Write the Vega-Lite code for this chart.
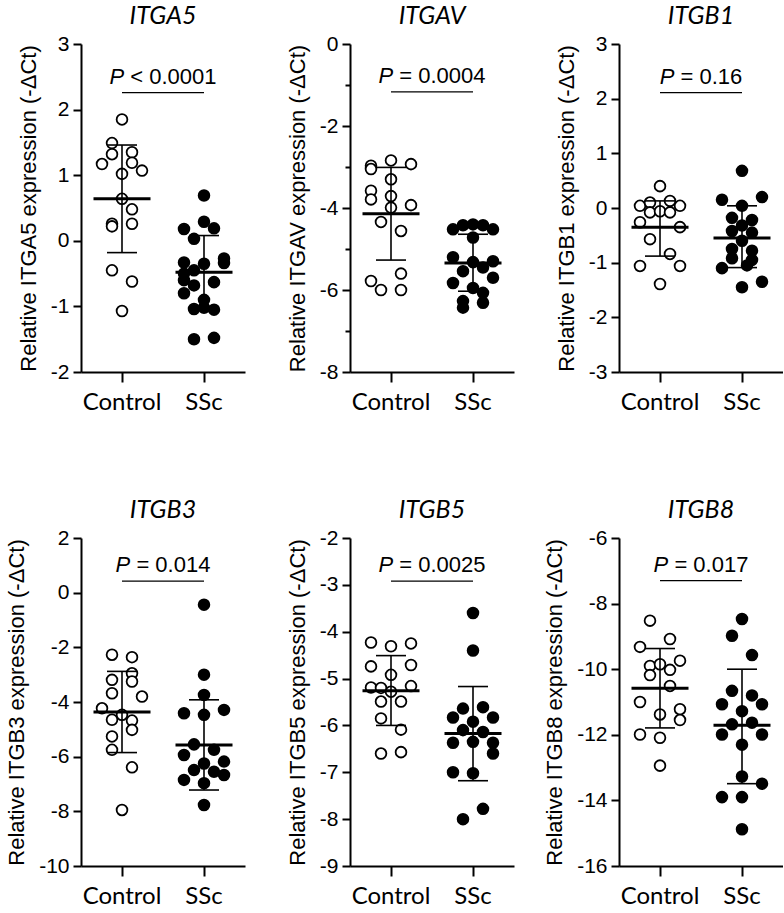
{
"$schema":"https://vega.github.io/schema/vega-lite/v6.json",
"padding":{"left":5,"top":4,"right":0,"bottom":0},
"background":"white",
"datasets":{
"pts":[
{"gene":"ITGA5","group":"Control","v":1.85,"s":0},{"gene":"ITGA5","group":"Control","v":1.49,"s":-2},{"gene":"ITGA5","group":"Control","v":1.32,"s":-2},{"gene":"ITGA5","group":"Control","v":1.35,"s":2},{"gene":"ITGA5","group":"Control","v":1.17,"s":-4},{"gene":"ITGA5","group":"Control","v":1.19,"s":2},{"gene":"ITGA5","group":"Control","v":1.07,"s":4},{"gene":"ITGA5","group":"Control","v":1.02,"s":0},{"gene":"ITGA5","group":"Control","v":0.64,"s":0},{"gene":"ITGA5","group":"Control","v":0.48,"s":2},{"gene":"ITGA5","group":"Control","v":0.26,"s":-2},{"gene":"ITGA5","group":"Control","v":0.22,"s":-2},{"gene":"ITGA5","group":"Control","v":0.26,"s":2},{"gene":"ITGA5","group":"Control","v":-0.45,"s":-2},{"gene":"ITGA5","group":"Control","v":-0.62,"s":2},{"gene":"ITGA5","group":"Control","v":-1.07,"s":0},
{"gene":"ITGA5","group":"SSc","v":0.69,"s":0},{"gene":"ITGA5","group":"SSc","v":0.29,"s":0},{"gene":"ITGA5","group":"SSc","v":0.18,"s":-4},{"gene":"ITGA5","group":"SSc","v":0.19,"s":2},{"gene":"ITGA5","group":"SSc","v":0.03,"s":-2},{"gene":"ITGA5","group":"SSc","v":-0.27,"s":4},{"gene":"ITGA5","group":"SSc","v":-0.34,"s":4},{"gene":"ITGA5","group":"SSc","v":-0.33,"s":-4},{"gene":"ITGA5","group":"SSc","v":-0.35,"s":0},{"gene":"ITGA5","group":"SSc","v":-0.45,"s":-2},{"gene":"ITGA5","group":"SSc","v":-0.5,"s":-4},{"gene":"ITGA5","group":"SSc","v":-0.6,"s":-4},{"gene":"ITGA5","group":"SSc","v":-0.63,"s":2},{"gene":"ITGA5","group":"SSc","v":-0.68,"s":-2},{"gene":"ITGA5","group":"SSc","v":-0.8,"s":-4},{"gene":"ITGA5","group":"SSc","v":-0.9,"s":0},{"gene":"ITGA5","group":"SSc","v":-1.02,"s":0},{"gene":"ITGA5","group":"SSc","v":-1.04,"s":-2},{"gene":"ITGA5","group":"SSc","v":-1.05,"s":2},{"gene":"ITGA5","group":"SSc","v":-1.5,"s":-2},{"gene":"ITGA5","group":"SSc","v":-1.48,"s":2},
{"gene":"ITGAV","group":"Control","v":-2.84,"s":0},{"gene":"ITGAV","group":"Control","v":-2.97,"s":-4},{"gene":"ITGAV","group":"Control","v":-3.05,"s":-4},{"gene":"ITGAV","group":"Control","v":-2.93,"s":4},{"gene":"ITGAV","group":"Control","v":-3.3,"s":0},{"gene":"ITGAV","group":"Control","v":-3.58,"s":-4},{"gene":"ITGAV","group":"Control","v":-3.71,"s":0},{"gene":"ITGAV","group":"Control","v":-3.79,"s":-4},{"gene":"ITGAV","group":"Control","v":-3.93,"s":4},{"gene":"ITGAV","group":"Control","v":-3.99,"s":0},{"gene":"ITGAV","group":"Control","v":-4.34,"s":-2},{"gene":"ITGAV","group":"Control","v":-4.56,"s":2},{"gene":"ITGAV","group":"Control","v":-5.6,"s":2},{"gene":"ITGAV","group":"Control","v":-5.78,"s":-4},{"gene":"ITGAV","group":"Control","v":-6.0,"s":-2},{"gene":"ITGAV","group":"Control","v":-6.0,"s":2},
{"gene":"ITGAV","group":"SSc","v":-4.52,"s":-4},{"gene":"ITGAV","group":"SSc","v":-4.42,"s":-2},{"gene":"ITGAV","group":"SSc","v":-4.4,"s":0},{"gene":"ITGAV","group":"SSc","v":-4.42,"s":2},{"gene":"ITGAV","group":"SSc","v":-4.52,"s":4},{"gene":"ITGAV","group":"SSc","v":-4.72,"s":0},{"gene":"ITGAV","group":"SSc","v":-5.2,"s":-4},{"gene":"ITGAV","group":"SSc","v":-5.32,"s":0},{"gene":"ITGAV","group":"SSc","v":-5.3,"s":4},{"gene":"ITGAV","group":"SSc","v":-5.54,"s":-2},{"gene":"ITGAV","group":"SSc","v":-5.45,"s":2},{"gene":"ITGAV","group":"SSc","v":-5.7,"s":4},{"gene":"ITGAV","group":"SSc","v":-5.83,"s":-4},{"gene":"ITGAV","group":"SSc","v":-5.95,"s":0},{"gene":"ITGAV","group":"SSc","v":-6.07,"s":2},{"gene":"ITGAV","group":"SSc","v":-6.27,"s":-2},{"gene":"ITGAV","group":"SSc","v":-6.43,"s":-2},{"gene":"ITGAV","group":"SSc","v":-6.31,"s":2},
{"gene":"ITGB1","group":"Control","v":0.4,"s":0},{"gene":"ITGB1","group":"Control","v":0.04,"s":-4},{"gene":"ITGB1","group":"Control","v":0.1,"s":-2},{"gene":"ITGB1","group":"Control","v":0.13,"s":2},{"gene":"ITGB1","group":"Control","v":0.04,"s":4},{"gene":"ITGB1","group":"Control","v":-0.08,"s":-2},{"gene":"ITGB1","group":"Control","v":-0.06,"s":0},{"gene":"ITGB1","group":"Control","v":-0.08,"s":2},{"gene":"ITGB1","group":"Control","v":-0.26,"s":-4},{"gene":"ITGB1","group":"Control","v":-0.35,"s":4},{"gene":"ITGB1","group":"Control","v":-0.57,"s":-2},{"gene":"ITGB1","group":"Control","v":-0.84,"s":2},{"gene":"ITGB1","group":"Control","v":-1.06,"s":-4},{"gene":"ITGB1","group":"Control","v":-1.06,"s":4},{"gene":"ITGB1","group":"Control","v":-1.39,"s":0},
{"gene":"ITGB1","group":"SSc","v":0.68,"s":0},{"gene":"ITGB1","group":"SSc","v":0.15,"s":-4},{"gene":"ITGB1","group":"SSc","v":0.2,"s":4},{"gene":"ITGB1","group":"SSc","v":0.04,"s":0},{"gene":"ITGB1","group":"SSc","v":-0.18,"s":-2},{"gene":"ITGB1","group":"SSc","v":-0.22,"s":2},{"gene":"ITGB1","group":"SSc","v":-0.32,"s":0},{"gene":"ITGB1","group":"SSc","v":-0.42,"s":-2},{"gene":"ITGB1","group":"SSc","v":-0.45,"s":2},{"gene":"ITGB1","group":"SSc","v":-0.6,"s":0},{"gene":"ITGB1","group":"SSc","v":-0.75,"s":-2},{"gene":"ITGB1","group":"SSc","v":-0.78,"s":2},{"gene":"ITGB1","group":"SSc","v":-0.92,"s":-2},{"gene":"ITGB1","group":"SSc","v":-0.95,"s":2},{"gene":"ITGB1","group":"SSc","v":-1.1,"s":-4},{"gene":"ITGB1","group":"SSc","v":-1.05,"s":1},{"gene":"ITGB1","group":"SSc","v":-1.35,"s":4},{"gene":"ITGB1","group":"SSc","v":-1.45,"s":0},
{"gene":"ITGB3","group":"Control","v":-2.27,"s":-2},{"gene":"ITGB3","group":"Control","v":-2.36,"s":2},{"gene":"ITGB3","group":"Control","v":-2.95,"s":2},{"gene":"ITGB3","group":"Control","v":-3.19,"s":-2},{"gene":"ITGB3","group":"Control","v":-3.25,"s":2},{"gene":"ITGB3","group":"Control","v":-3.68,"s":-2},{"gene":"ITGB3","group":"Control","v":-3.8,"s":4},{"gene":"ITGB3","group":"Control","v":-4.23,"s":-4},{"gene":"ITGB3","group":"Control","v":-4.47,"s":0},{"gene":"ITGB3","group":"Control","v":-4.65,"s":-2},{"gene":"ITGB3","group":"Control","v":-4.68,"s":2},{"gene":"ITGB3","group":"Control","v":-5.02,"s":2},{"gene":"ITGB3","group":"Control","v":-5.26,"s":-2},{"gene":"ITGB3","group":"Control","v":-5.75,"s":-2},{"gene":"ITGB3","group":"Control","v":-6.39,"s":2},{"gene":"ITGB3","group":"Control","v":-7.95,"s":0},
{"gene":"ITGB3","group":"SSc","v":-0.44,"s":0},{"gene":"ITGB3","group":"SSc","v":-3.0,"s":0},{"gene":"ITGB3","group":"SSc","v":-3.74,"s":0},{"gene":"ITGB3","group":"SSc","v":-4.41,"s":-4},{"gene":"ITGB3","group":"SSc","v":-4.47,"s":0},{"gene":"ITGB3","group":"SSc","v":-4.29,"s":4},{"gene":"ITGB3","group":"SSc","v":-5.55,"s":-2},{"gene":"ITGB3","group":"SSc","v":-5.75,"s":2},{"gene":"ITGB3","group":"SSc","v":-5.94,"s":-4},{"gene":"ITGB3","group":"SSc","v":-6.18,"s":4},{"gene":"ITGB3","group":"SSc","v":-6.25,"s":0},{"gene":"ITGB3","group":"SSc","v":-6.49,"s":-2},{"gene":"ITGB3","group":"SSc","v":-6.55,"s":2},{"gene":"ITGB3","group":"SSc","v":-6.85,"s":-4},{"gene":"ITGB3","group":"SSc","v":-6.67,"s":4},{"gene":"ITGB3","group":"SSc","v":-6.97,"s":0},{"gene":"ITGB3","group":"SSc","v":-7.77,"s":0},
{"gene":"ITGB5","group":"Control","v":-4.23,"s":-4},{"gene":"ITGB5","group":"Control","v":-4.31,"s":0},{"gene":"ITGB5","group":"Control","v":-4.25,"s":4},{"gene":"ITGB5","group":"Control","v":-4.74,"s":-4},{"gene":"ITGB5","group":"Control","v":-4.71,"s":4},{"gene":"ITGB5","group":"Control","v":-4.92,"s":0},{"gene":"ITGB5","group":"Control","v":-5.19,"s":-4},{"gene":"ITGB5","group":"Control","v":-5.2,"s":-2},{"gene":"ITGB5","group":"Control","v":-5.16,"s":4},{"gene":"ITGB5","group":"Control","v":-5.28,"s":0},{"gene":"ITGB5","group":"Control","v":-5.49,"s":-2},{"gene":"ITGB5","group":"Control","v":-5.49,"s":2},{"gene":"ITGB5","group":"Control","v":-5.85,"s":-2},{"gene":"ITGB5","group":"Control","v":-6.09,"s":2},{"gene":"ITGB5","group":"Control","v":-6.6,"s":-2},{"gene":"ITGB5","group":"Control","v":-6.57,"s":2},
{"gene":"ITGB5","group":"SSc","v":-3.6,"s":0},{"gene":"ITGB5","group":"SSc","v":-4.4,"s":0},{"gene":"ITGB5","group":"SSc","v":-5.64,"s":-2},{"gene":"ITGB5","group":"SSc","v":-5.61,"s":2},{"gene":"ITGB5","group":"SSc","v":-5.83,"s":-4},{"gene":"ITGB5","group":"SSc","v":-5.83,"s":4},{"gene":"ITGB5","group":"SSc","v":-5.92,"s":0},{"gene":"ITGB5","group":"SSc","v":-6.1,"s":-2},{"gene":"ITGB5","group":"SSc","v":-6.14,"s":2},{"gene":"ITGB5","group":"SSc","v":-6.37,"s":-4},{"gene":"ITGB5","group":"SSc","v":-6.35,"s":0},{"gene":"ITGB5","group":"SSc","v":-6.37,"s":4},{"gene":"ITGB5","group":"SSc","v":-6.6,"s":4},{"gene":"ITGB5","group":"SSc","v":-7.0,"s":-4},{"gene":"ITGB5","group":"SSc","v":-7.02,"s":0},{"gene":"ITGB5","group":"SSc","v":-7.78,"s":2},{"gene":"ITGB5","group":"SSc","v":-8.0,"s":-2},
{"gene":"ITGB8","group":"Control","v":-8.52,"s":-2},{"gene":"ITGB8","group":"Control","v":-9.08,"s":2},{"gene":"ITGB8","group":"Control","v":-9.32,"s":-4},{"gene":"ITGB8","group":"Control","v":-9.74,"s":4},{"gene":"ITGB8","group":"Control","v":-9.9,"s":-2},{"gene":"ITGB8","group":"Control","v":-9.85,"s":0},{"gene":"ITGB8","group":"Control","v":-10.02,"s":2},{"gene":"ITGB8","group":"Control","v":-10.18,"s":-2},{"gene":"ITGB8","group":"Control","v":-10.51,"s":2},{"gene":"ITGB8","group":"Control","v":-11.0,"s":-4},{"gene":"ITGB8","group":"Control","v":-11.22,"s":4},{"gene":"ITGB8","group":"Control","v":-11.38,"s":0},{"gene":"ITGB8","group":"Control","v":-11.55,"s":4},{"gene":"ITGB8","group":"Control","v":-11.99,"s":-4},{"gene":"ITGB8","group":"Control","v":-12.09,"s":0},{"gene":"ITGB8","group":"Control","v":-12.94,"s":0},
{"gene":"ITGB8","group":"SSc","v":-8.47,"s":0},{"gene":"ITGB8","group":"SSc","v":-8.98,"s":-2},{"gene":"ITGB8","group":"SSc","v":-9.57,"s":2},{"gene":"ITGB8","group":"SSc","v":-10.66,"s":-2},{"gene":"ITGB8","group":"SSc","v":-10.8,"s":2},{"gene":"ITGB8","group":"SSc","v":-11.07,"s":-4},{"gene":"ITGB8","group":"SSc","v":-11.07,"s":4},{"gene":"ITGB8","group":"SSc","v":-11.28,"s":0},{"gene":"ITGB8","group":"SSc","v":-11.68,"s":-2},{"gene":"ITGB8","group":"SSc","v":-11.63,"s":2},{"gene":"ITGB8","group":"SSc","v":-11.99,"s":-4},{"gene":"ITGB8","group":"SSc","v":-11.99,"s":4},{"gene":"ITGB8","group":"SSc","v":-12.3,"s":0},{"gene":"ITGB8","group":"SSc","v":-13.27,"s":0},{"gene":"ITGB8","group":"SSc","v":-13.49,"s":4},{"gene":"ITGB8","group":"SSc","v":-13.9,"s":-4},{"gene":"ITGB8","group":"SSc","v":-13.9,"s":0},{"gene":"ITGB8","group":"SSc","v":-14.88,"s":0}
],
"stats":[
{"gene":"ITGA5","group":"Control","mean":0.64,"lo":-0.18,"hi":1.46},{"gene":"ITGA5","group":"SSc","mean":-0.48,"lo":-1.04,"hi":0.08},
{"gene":"ITGAV","group":"Control","mean":-4.14,"lo":-5.27,"hi":-3.01},{"gene":"ITGAV","group":"SSc","mean":-5.34,"lo":-6.03,"hi":-4.64},
{"gene":"ITGB1","group":"Control","mean":-0.35,"lo":-0.88,"hi":0.13},{"gene":"ITGB1","group":"SSc","mean":-0.55,"lo":-1.09,"hi":0.04},
{"gene":"ITGB3","group":"Control","mean":-4.37,"lo":-5.85,"hi":-2.88},{"gene":"ITGB3","group":"SSc","mean":-5.57,"lo":-7.22,"hi":-3.92},
{"gene":"ITGB5","group":"Control","mean":-5.26,"lo":-6.0,"hi":-4.51},{"gene":"ITGB5","group":"SSc","mean":-6.17,"lo":-7.18,"hi":-5.17},
{"gene":"ITGB8","group":"Control","mean":-10.58,"lo":-11.79,"hi":-9.37},{"gene":"ITGB8","group":"SSc","mean":-11.71,"lo":-13.49,"hi":-10.0}
],
"ann":[
{"gene":"ITGA5","t":"< 0.0001","by":2.26},
{"gene":"ITGAV","t":"= 0.0004","by":-1.17},
{"gene":"ITGB1","t":"= 0.16","by":2.11},
{"gene":"ITGB3","t":"= 0.014","by":0.42},
{"gene":"ITGB5","t":"= 0.0025","by":-2.92},
{"gene":"ITGB8","t":"= 0.017","by":-7.3}
]
},
"columns":3,
"bounds":"flush",
"spacing":{"row":166,"column":105},
"concat":[
{"width":164,"height":328,"title":"ITGA5",
"encoding":{"x":{"field":"group","type":"nominal","scale":{"domain":["Control","SSc"],"paddingInner":0,"paddingOuter":0},"title":null}},
"layer":[
{"data":{"name":"pts"},"transform":[{"filter":"datum.gene==='ITGA5'"}],"mark":{"type":"point","filled":true,"size":115,"stroke":"black","strokeWidth":1.8,"opacity":1},
"encoding":{"xOffset":{"field":"s","type":"ordinal","scale":{"type":"point","domain":[-4,-3,-2,-1,0,1,2,3,4],"range":[21,61],"padding":0}},
"y":{"field":"v","type":"quantitative","scale":{"domain":[-2,3],"nice":false,"zero":false},"axis":{"title":"Relative ITGA5 expression (-ΔCt)","values":[-2,-1.5,-1,-0.5,0,0.5,1,1.5,2,2.5,3],"labelExpr":"datum.value % 1 === 0 ? '' + datum.value : ''","tickSize":{"condition":{"test":"datum.value % 1 === 0","value":8},"value":5}}},
"fill":{"field":"group","type":"nominal","scale":{"domain":["Control","SSc"],"range":["white","black"]},"legend":null}}},
{"data":{"name":"stats"},"transform":[{"filter":"datum.gene==='ITGA5'"}],"mark":{"type":"rule","color":"black","strokeWidth":1.6},"encoding":{"y":{"field":"lo","type":"quantitative"},"y2":{"field":"hi"}}},
{"data":{"name":"stats"},"transform":[{"filter":"datum.gene==='ITGA5'"}],"mark":{"type":"tick","color":"black","opacity":1,"size":30,"thickness":1.6},"encoding":{"y":{"field":"lo","type":"quantitative"}}},
{"data":{"name":"stats"},"transform":[{"filter":"datum.gene==='ITGA5'"}],"mark":{"type":"tick","color":"black","opacity":1,"size":30,"thickness":1.6},"encoding":{"y":{"field":"hi","type":"quantitative"}}},
{"data":{"name":"stats"},"transform":[{"filter":"datum.gene==='ITGA5'"}],"mark":{"type":"tick","color":"black","opacity":1,"size":57,"thickness":3},"encoding":{"y":{"field":"mean","type":"quantitative"}}},
{"data":{"name":"ann"},"transform":[{"filter":"datum.gene==='ITGA5'"}],"mark":{"type":"rule","color":"black","strokeWidth":1.3},"encoding":{"x":{"datum":"Control"},"x2":{"datum":"SSc"},"y":{"field":"by","type":"quantitative"}}},
{"data":{"name":"ann"},"transform":[{"filter":"datum.gene==='ITGA5'"}],"mark":{"type":"text","font":"Liberation Sans","fontSize":22,"fontStyle":"italic","align":"left","baseline":"alphabetic","dy":-9,"color":"black","dx":{"expr":"-(2.085 + (length(datum.t) - 3) * 0.556) * 11"}},"encoding":{"x":{"datum":"SSc","bandPosition":0},"y":{"field":"by","type":"quantitative"},"text":{"value":"P"}}},
{"data":{"name":"ann"},"transform":[{"filter":"datum.gene==='ITGA5'"}],"mark":{"type":"text","font":"Liberation Sans","fontSize":22,"align":"left","baseline":"alphabetic","dy":-9,"color":"black","dx":{"expr":"-(2.085 + (length(datum.t) - 3) * 0.556) * 11 + 20.8"}},"encoding":{"x":{"datum":"SSc","bandPosition":0},"y":{"field":"by","type":"quantitative"},"text":{"field":"t"}}}
]},
{"width":164,"height":328,"title":"ITGAV",
"encoding":{"x":{"field":"group","type":"nominal","scale":{"domain":["Control","SSc"],"paddingInner":0,"paddingOuter":0},"title":null}},
"layer":[
{"data":{"name":"pts"},"transform":[{"filter":"datum.gene==='ITGAV'"}],"mark":{"type":"point","filled":true,"size":115,"stroke":"black","strokeWidth":1.8,"opacity":1},
"encoding":{"xOffset":{"field":"s","type":"ordinal","scale":{"type":"point","domain":[-4,-3,-2,-1,0,1,2,3,4],"range":[21,61],"padding":0}},
"y":{"field":"v","type":"quantitative","scale":{"domain":[-8,0],"nice":false,"zero":false},"axis":{"title":"Relative ITGAV expression (-ΔCt)","values":[-8,-7,-6,-5,-4,-3,-2,-1,0],"labelExpr":"datum.value % 2 === 0 ? '' + datum.value : ''","tickSize":{"condition":{"test":"datum.value % 2 === 0","value":8},"value":5}}},
"fill":{"field":"group","type":"nominal","scale":{"domain":["Control","SSc"],"range":["white","black"]},"legend":null}}},
{"data":{"name":"stats"},"transform":[{"filter":"datum.gene==='ITGAV'"}],"mark":{"type":"rule","color":"black","strokeWidth":1.6},"encoding":{"y":{"field":"lo","type":"quantitative"},"y2":{"field":"hi"}}},
{"data":{"name":"stats"},"transform":[{"filter":"datum.gene==='ITGAV'"}],"mark":{"type":"tick","color":"black","opacity":1,"size":30,"thickness":1.6},"encoding":{"y":{"field":"lo","type":"quantitative"}}},
{"data":{"name":"stats"},"transform":[{"filter":"datum.gene==='ITGAV'"}],"mark":{"type":"tick","color":"black","opacity":1,"size":30,"thickness":1.6},"encoding":{"y":{"field":"hi","type":"quantitative"}}},
{"data":{"name":"stats"},"transform":[{"filter":"datum.gene==='ITGAV'"}],"mark":{"type":"tick","color":"black","opacity":1,"size":57,"thickness":3},"encoding":{"y":{"field":"mean","type":"quantitative"}}},
{"data":{"name":"ann"},"transform":[{"filter":"datum.gene==='ITGAV'"}],"mark":{"type":"rule","color":"black","strokeWidth":1.3},"encoding":{"x":{"datum":"Control"},"x2":{"datum":"SSc"},"y":{"field":"by","type":"quantitative"}}},
{"data":{"name":"ann"},"transform":[{"filter":"datum.gene==='ITGAV'"}],"mark":{"type":"text","font":"Liberation Sans","fontSize":22,"fontStyle":"italic","align":"left","baseline":"alphabetic","dy":-9,"color":"black","dx":{"expr":"-(2.085 + (length(datum.t) - 3) * 0.556) * 11"}},"encoding":{"x":{"datum":"SSc","bandPosition":0},"y":{"field":"by","type":"quantitative"},"text":{"value":"P"}}},
{"data":{"name":"ann"},"transform":[{"filter":"datum.gene==='ITGAV'"}],"mark":{"type":"text","font":"Liberation Sans","fontSize":22,"align":"left","baseline":"alphabetic","dy":-9,"color":"black","dx":{"expr":"-(2.085 + (length(datum.t) - 3) * 0.556) * 11 + 20.8"}},"encoding":{"x":{"datum":"SSc","bandPosition":0},"y":{"field":"by","type":"quantitative"},"text":{"field":"t"}}}
]},
{"width":164,"height":328,"title":"ITGB1",
"encoding":{"x":{"field":"group","type":"nominal","scale":{"domain":["Control","SSc"],"paddingInner":0,"paddingOuter":0},"title":null}},
"layer":[
{"data":{"name":"pts"},"transform":[{"filter":"datum.gene==='ITGB1'"}],"mark":{"type":"point","filled":true,"size":115,"stroke":"black","strokeWidth":1.8,"opacity":1},
"encoding":{"xOffset":{"field":"s","type":"ordinal","scale":{"type":"point","domain":[-4,-3,-2,-1,0,1,2,3,4],"range":[21,61],"padding":0}},
"y":{"field":"v","type":"quantitative","scale":{"domain":[-3,3],"nice":false,"zero":false},"axis":{"title":"Relative ITGB1 expression (-ΔCt)","values":[-3,-2.5,-2,-1.5,-1,-0.5,0,0.5,1,1.5,2,2.5,3],"labelExpr":"datum.value % 1 === 0 ? '' + datum.value : ''","tickSize":{"condition":{"test":"datum.value % 1 === 0","value":8},"value":5}}},
"fill":{"field":"group","type":"nominal","scale":{"domain":["Control","SSc"],"range":["white","black"]},"legend":null}}},
{"data":{"name":"stats"},"transform":[{"filter":"datum.gene==='ITGB1'"}],"mark":{"type":"rule","color":"black","strokeWidth":1.6},"encoding":{"y":{"field":"lo","type":"quantitative"},"y2":{"field":"hi"}}},
{"data":{"name":"stats"},"transform":[{"filter":"datum.gene==='ITGB1'"}],"mark":{"type":"tick","color":"black","opacity":1,"size":30,"thickness":1.6},"encoding":{"y":{"field":"lo","type":"quantitative"}}},
{"data":{"name":"stats"},"transform":[{"filter":"datum.gene==='ITGB1'"}],"mark":{"type":"tick","color":"black","opacity":1,"size":30,"thickness":1.6},"encoding":{"y":{"field":"hi","type":"quantitative"}}},
{"data":{"name":"stats"},"transform":[{"filter":"datum.gene==='ITGB1'"}],"mark":{"type":"tick","color":"black","opacity":1,"size":57,"thickness":3},"encoding":{"y":{"field":"mean","type":"quantitative"}}},
{"data":{"name":"ann"},"transform":[{"filter":"datum.gene==='ITGB1'"}],"mark":{"type":"rule","color":"black","strokeWidth":1.3},"encoding":{"x":{"datum":"Control"},"x2":{"datum":"SSc"},"y":{"field":"by","type":"quantitative"}}},
{"data":{"name":"ann"},"transform":[{"filter":"datum.gene==='ITGB1'"}],"mark":{"type":"text","font":"Liberation Sans","fontSize":22,"fontStyle":"italic","align":"left","baseline":"alphabetic","dy":-9,"color":"black","dx":{"expr":"-(2.085 + (length(datum.t) - 3) * 0.556) * 11"}},"encoding":{"x":{"datum":"SSc","bandPosition":0},"y":{"field":"by","type":"quantitative"},"text":{"value":"P"}}},
{"data":{"name":"ann"},"transform":[{"filter":"datum.gene==='ITGB1'"}],"mark":{"type":"text","font":"Liberation Sans","fontSize":22,"align":"left","baseline":"alphabetic","dy":-9,"color":"black","dx":{"expr":"-(2.085 + (length(datum.t) - 3) * 0.556) * 11 + 20.8"}},"encoding":{"x":{"datum":"SSc","bandPosition":0},"y":{"field":"by","type":"quantitative"},"text":{"field":"t"}}}
]},
{"width":164,"height":328,"title":"ITGB3",
"encoding":{"x":{"field":"group","type":"nominal","scale":{"domain":["Control","SSc"],"paddingInner":0,"paddingOuter":0},"title":null}},
"layer":[
{"data":{"name":"pts"},"transform":[{"filter":"datum.gene==='ITGB3'"}],"mark":{"type":"point","filled":true,"size":115,"stroke":"black","strokeWidth":1.8,"opacity":1},
"encoding":{"xOffset":{"field":"s","type":"ordinal","scale":{"type":"point","domain":[-4,-3,-2,-1,0,1,2,3,4],"range":[21,61],"padding":0}},
"y":{"field":"v","type":"quantitative","scale":{"domain":[-10,2],"nice":false,"zero":false},"axis":{"title":"Relative ITGB3 expression (-ΔCt)","values":[-10,-9,-8,-7,-6,-5,-4,-3,-2,-1,0,1,2],"labelExpr":"datum.value % 2 === 0 ? '' + datum.value : ''","tickSize":{"condition":{"test":"datum.value % 2 === 0","value":8},"value":5}}},
"fill":{"field":"group","type":"nominal","scale":{"domain":["Control","SSc"],"range":["white","black"]},"legend":null}}},
{"data":{"name":"stats"},"transform":[{"filter":"datum.gene==='ITGB3'"}],"mark":{"type":"rule","color":"black","strokeWidth":1.6},"encoding":{"y":{"field":"lo","type":"quantitative"},"y2":{"field":"hi"}}},
{"data":{"name":"stats"},"transform":[{"filter":"datum.gene==='ITGB3'"}],"mark":{"type":"tick","color":"black","opacity":1,"size":30,"thickness":1.6},"encoding":{"y":{"field":"lo","type":"quantitative"}}},
{"data":{"name":"stats"},"transform":[{"filter":"datum.gene==='ITGB3'"}],"mark":{"type":"tick","color":"black","opacity":1,"size":30,"thickness":1.6},"encoding":{"y":{"field":"hi","type":"quantitative"}}},
{"data":{"name":"stats"},"transform":[{"filter":"datum.gene==='ITGB3'"}],"mark":{"type":"tick","color":"black","opacity":1,"size":57,"thickness":3},"encoding":{"y":{"field":"mean","type":"quantitative"}}},
{"data":{"name":"ann"},"transform":[{"filter":"datum.gene==='ITGB3'"}],"mark":{"type":"rule","color":"black","strokeWidth":1.3},"encoding":{"x":{"datum":"Control"},"x2":{"datum":"SSc"},"y":{"field":"by","type":"quantitative"}}},
{"data":{"name":"ann"},"transform":[{"filter":"datum.gene==='ITGB3'"}],"mark":{"type":"text","font":"Liberation Sans","fontSize":22,"fontStyle":"italic","align":"left","baseline":"alphabetic","dy":-9,"color":"black","dx":{"expr":"-(2.085 + (length(datum.t) - 3) * 0.556) * 11"}},"encoding":{"x":{"datum":"SSc","bandPosition":0},"y":{"field":"by","type":"quantitative"},"text":{"value":"P"}}},
{"data":{"name":"ann"},"transform":[{"filter":"datum.gene==='ITGB3'"}],"mark":{"type":"text","font":"Liberation Sans","fontSize":22,"align":"left","baseline":"alphabetic","dy":-9,"color":"black","dx":{"expr":"-(2.085 + (length(datum.t) - 3) * 0.556) * 11 + 20.8"}},"encoding":{"x":{"datum":"SSc","bandPosition":0},"y":{"field":"by","type":"quantitative"},"text":{"field":"t"}}}
]},
{"width":164,"height":328,"title":"ITGB5",
"encoding":{"x":{"field":"group","type":"nominal","scale":{"domain":["Control","SSc"],"paddingInner":0,"paddingOuter":0},"title":null}},
"layer":[
{"data":{"name":"pts"},"transform":[{"filter":"datum.gene==='ITGB5'"}],"mark":{"type":"point","filled":true,"size":115,"stroke":"black","strokeWidth":1.8,"opacity":1},
"encoding":{"xOffset":{"field":"s","type":"ordinal","scale":{"type":"point","domain":[-4,-3,-2,-1,0,1,2,3,4],"range":[21,61],"padding":0}},
"y":{"field":"v","type":"quantitative","scale":{"domain":[-9,-2],"nice":false,"zero":false},"axis":{"title":"Relative ITGB5 expression (-ΔCt)","values":[-9,-8.5,-8,-7.5,-7,-6.5,-6,-5.5,-5,-4.5,-4,-3.5,-3,-2.5,-2],"labelExpr":"datum.value % 1 === 0 ? '' + datum.value : ''","tickSize":{"condition":{"test":"datum.value % 1 === 0","value":8},"value":5}}},
"fill":{"field":"group","type":"nominal","scale":{"domain":["Control","SSc"],"range":["white","black"]},"legend":null}}},
{"data":{"name":"stats"},"transform":[{"filter":"datum.gene==='ITGB5'"}],"mark":{"type":"rule","color":"black","strokeWidth":1.6},"encoding":{"y":{"field":"lo","type":"quantitative"},"y2":{"field":"hi"}}},
{"data":{"name":"stats"},"transform":[{"filter":"datum.gene==='ITGB5'"}],"mark":{"type":"tick","color":"black","opacity":1,"size":30,"thickness":1.6},"encoding":{"y":{"field":"lo","type":"quantitative"}}},
{"data":{"name":"stats"},"transform":[{"filter":"datum.gene==='ITGB5'"}],"mark":{"type":"tick","color":"black","opacity":1,"size":30,"thickness":1.6},"encoding":{"y":{"field":"hi","type":"quantitative"}}},
{"data":{"name":"stats"},"transform":[{"filter":"datum.gene==='ITGB5'"}],"mark":{"type":"tick","color":"black","opacity":1,"size":57,"thickness":3},"encoding":{"y":{"field":"mean","type":"quantitative"}}},
{"data":{"name":"ann"},"transform":[{"filter":"datum.gene==='ITGB5'"}],"mark":{"type":"rule","color":"black","strokeWidth":1.3},"encoding":{"x":{"datum":"Control"},"x2":{"datum":"SSc"},"y":{"field":"by","type":"quantitative"}}},
{"data":{"name":"ann"},"transform":[{"filter":"datum.gene==='ITGB5'"}],"mark":{"type":"text","font":"Liberation Sans","fontSize":22,"fontStyle":"italic","align":"left","baseline":"alphabetic","dy":-9,"color":"black","dx":{"expr":"-(2.085 + (length(datum.t) - 3) * 0.556) * 11"}},"encoding":{"x":{"datum":"SSc","bandPosition":0},"y":{"field":"by","type":"quantitative"},"text":{"value":"P"}}},
{"data":{"name":"ann"},"transform":[{"filter":"datum.gene==='ITGB5'"}],"mark":{"type":"text","font":"Liberation Sans","fontSize":22,"align":"left","baseline":"alphabetic","dy":-9,"color":"black","dx":{"expr":"-(2.085 + (length(datum.t) - 3) * 0.556) * 11 + 20.8"}},"encoding":{"x":{"datum":"SSc","bandPosition":0},"y":{"field":"by","type":"quantitative"},"text":{"field":"t"}}}
]},
{"width":164,"height":328,"title":"ITGB8",
"encoding":{"x":{"field":"group","type":"nominal","scale":{"domain":["Control","SSc"],"paddingInner":0,"paddingOuter":0},"title":null}},
"layer":[
{"data":{"name":"pts"},"transform":[{"filter":"datum.gene==='ITGB8'"}],"mark":{"type":"point","filled":true,"size":115,"stroke":"black","strokeWidth":1.8,"opacity":1},
"encoding":{"xOffset":{"field":"s","type":"ordinal","scale":{"type":"point","domain":[-4,-3,-2,-1,0,1,2,3,4],"range":[21,61],"padding":0}},
"y":{"field":"v","type":"quantitative","scale":{"domain":[-16,-6],"nice":false,"zero":false},"axis":{"title":"Relative ITGB8 expression (-ΔCt)","values":[-16,-15,-14,-13,-12,-11,-10,-9,-8,-7,-6],"labelExpr":"datum.value % 2 === 0 ? '' + datum.value : ''","tickSize":{"condition":{"test":"datum.value % 2 === 0","value":8},"value":5}}},
"fill":{"field":"group","type":"nominal","scale":{"domain":["Control","SSc"],"range":["white","black"]},"legend":null}}},
{"data":{"name":"stats"},"transform":[{"filter":"datum.gene==='ITGB8'"}],"mark":{"type":"rule","color":"black","strokeWidth":1.6},"encoding":{"y":{"field":"lo","type":"quantitative"},"y2":{"field":"hi"}}},
{"data":{"name":"stats"},"transform":[{"filter":"datum.gene==='ITGB8'"}],"mark":{"type":"tick","color":"black","opacity":1,"size":30,"thickness":1.6},"encoding":{"y":{"field":"lo","type":"quantitative"}}},
{"data":{"name":"stats"},"transform":[{"filter":"datum.gene==='ITGB8'"}],"mark":{"type":"tick","color":"black","opacity":1,"size":30,"thickness":1.6},"encoding":{"y":{"field":"hi","type":"quantitative"}}},
{"data":{"name":"stats"},"transform":[{"filter":"datum.gene==='ITGB8'"}],"mark":{"type":"tick","color":"black","opacity":1,"size":57,"thickness":3},"encoding":{"y":{"field":"mean","type":"quantitative"}}},
{"data":{"name":"ann"},"transform":[{"filter":"datum.gene==='ITGB8'"}],"mark":{"type":"rule","color":"black","strokeWidth":1.3},"encoding":{"x":{"datum":"Control"},"x2":{"datum":"SSc"},"y":{"field":"by","type":"quantitative"}}},
{"data":{"name":"ann"},"transform":[{"filter":"datum.gene==='ITGB8'"}],"mark":{"type":"text","font":"Liberation Sans","fontSize":22,"fontStyle":"italic","align":"left","baseline":"alphabetic","dy":-9,"color":"black","dx":{"expr":"-(2.085 + (length(datum.t) - 3) * 0.556) * 11"}},"encoding":{"x":{"datum":"SSc","bandPosition":0},"y":{"field":"by","type":"quantitative"},"text":{"value":"P"}}},
{"data":{"name":"ann"},"transform":[{"filter":"datum.gene==='ITGB8'"}],"mark":{"type":"text","font":"Liberation Sans","fontSize":22,"align":"left","baseline":"alphabetic","dy":-9,"color":"black","dx":{"expr":"-(2.085 + (length(datum.t) - 3) * 0.556) * 11 + 20.8"}},"encoding":{"x":{"datum":"SSc","bandPosition":0},"y":{"field":"by","type":"quantitative"},"text":{"field":"t"}}}
]}
],
"config":{
"view":{"stroke":null},
"axis":{"grid":false,"domainColor":"black","domainWidth":2,"tickColor":"black","tickWidth":2,"labelColor":"black","titleColor":"black"},
"axisX":{"labelFont":"Lato","labelFontSize":24,"labelAngle":0,"tickSize":10,"labelPadding":8},
"axisY":{"labelFont":"Liberation Sans","labelFontSize":21,"labelPadding":4,"titleFont":"Liberation Sans","titleFontSize":22,"titleFontWeight":"normal","titlePadding":10},
"title":{"font":"Lato","fontSize":25,"fontStyle":"italic","fontWeight":"normal","color":"black","offset":4}
}
}
